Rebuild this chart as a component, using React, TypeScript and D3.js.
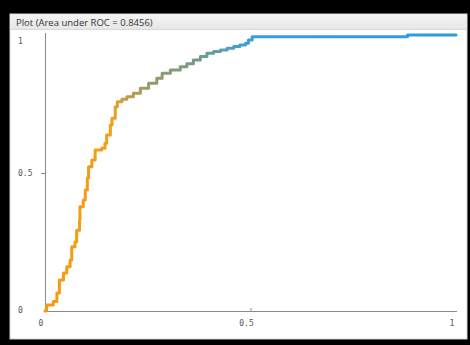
import { useEffect, useRef } from 'react';
import * as d3 from 'd3';

// ROC curve points
const fpr = [0, 0.002, 0.004, 0.02, 0.029, 0.035, 0.045, 0.053, 0.061, 0.065, 0.073, 0.077, 0.084, 0.085, 0.093, 0.098, 0.103, 0.106, 0.114, 0.122, 0.138, 0.146, 0.15, 0.159, 0.163, 0.171, 0.176, 0.187, 0.199, 0.215, 0.232, 0.252, 0.272, 0.285, 0.305, 0.329, 0.345, 0.361, 0.378, 0.394, 0.41, 0.427, 0.443, 0.459, 0.474, 0.488, 0.495, 0.504, 0.882, 1.0];
const tpr = [0, 0.004, 0.022, 0.034, 0.065, 0.112, 0.138, 0.16, 0.185, 0.233, 0.251, 0.293, 0.33, 0.378, 0.402, 0.438, 0.482, 0.523, 0.547, 0.583, 0.59, 0.608, 0.638, 0.674, 0.698, 0.74, 0.758, 0.767, 0.776, 0.789, 0.807, 0.825, 0.843, 0.861, 0.873, 0.885, 0.896, 0.909, 0.922, 0.934, 0.94, 0.946, 0.952, 0.958, 0.964, 0.97, 0.982, 0.994, 1.0, 1.0];

const xTicks = [0, 0.5, 1];
const yTicks = [0, 0.5, 1];
const tickLabels = ['0', '0.5', '1'];
const auc = 0.8456;

// colour along the curve, keyed by false positive rate
const gradStops = [
    [0, '#f39c12'],
    [0.165, '#f29e18'],
    [0.19, '#c2a04a'],
    [0.26, '#939a68'],
    [0.35, '#7a9a80'],
    [0.43, '#5e9db0'],
    [0.5, '#35a0dc'],
    [1, '#2e9be0'],
];

export default function App() {
    const svgRef = useRef(null);

    useEffect(() => {
        const width = 470;
        const height = 345;
        const svg = d3.select(svgRef.current);
        svg.selectAll('*').remove();
        svg.attr('width', width).attr('height', height);

        // frame
        svg.append('rect').attr('width', width).attr('height', height).attr('fill', '#000');
        svg.append('rect')
            .attr('x', 10).attr('y', 14)
            .attr('width', 457).attr('height', 325)
            .attr('fill', '#fff').attr('stroke', '#d4d4d4');

        // title bar
        const defs = svg.append('defs');
        const tg = defs.append('linearGradient').attr('id', 'titlebar')
            .attr('x1', 0).attr('y1', 0).attr('x2', 0).attr('y2', 1);
        tg.append('stop').attr('offset', 0).attr('stop-color', '#f4f4f4');
        tg.append('stop').attr('offset', 1).attr('stop-color', '#e6e6e6');
        svg.append('rect')
            .attr('x', 10.5).attr('y', 14.5)
            .attr('width', 456).attr('height', 15)
            .attr('fill', 'url(#titlebar)');
        svg.append('line')
            .attr('x1', 10).attr('x2', 467).attr('y1', 29.5).attr('y2', 29.5)
            .attr('stroke', '#d8d8d8');
        svg.append('text')
            .attr('x', 16).attr('y', 26)
            .style('font-family', '"Open Sans", sans-serif')
            .style('font-size', '9.5px')
            .style('fill', '#333')
            .text(`Plot (Area under ROC = ${auc})`);

        const x = d3.scaleLinear().domain([0, 1]).range([45, 456]);
        const y = d3.scaleLinear().domain([0, 1]).range([311, 35]);

        // axes
        svg.append('line')
            .attr('x1', x(0) + 0.5).attr('x2', x(0) + 0.5)
            .attr('y1', 33).attr('y2', y(0))
            .attr('stroke', '#8a8a8a');
        svg.append('line')
            .attr('x1', x(0)).attr('x2', x(1) + 1)
            .attr('y1', y(0) + 0.5).attr('y2', y(0) + 0.5)
            .attr('stroke', '#8a8a8a');

        // ticks
        svg.append('line')
            .attr('x1', x(0.5) + 0.5).attr('x2', x(0.5) + 0.5)
            .attr('y1', y(0) - 3).attr('y2', y(0))
            .attr('stroke', '#8a8a8a');
        svg.append('line')
            .attr('x1', x(0) - 4).attr('x2', x(0))
            .attr('y1', y(0.5) + 0.5).attr('y2', y(0.5) + 0.5)
            .attr('stroke', '#8a8a8a');

        const labelStyle = (sel) => sel
            .style('font-family', '"DejaVu Sans Mono", monospace')
            .style('font-size', '8px')
            .style('fill', '#555');

        svg.selectAll('.xlab').data(xTicks).enter().append('text')
            .attr('class', 'xlab')
            .attr('x', (d) => x(d) - 4)
            .attr('y', 326)
            .attr('text-anchor', 'middle')
            .call(labelStyle)
            .text((d, i) => tickLabels[i]);

        svg.selectAll('.ylab').data(yTicks).enter().append('text')
            .attr('class', 'ylab')
            .attr('x', 18)
            .attr('y', (d) => y(d) + 3 + (d === 1 ? 6 : 0) - (d === 0 ? 1 : 0))
            .call(labelStyle)
            .text((d, i) => tickLabels[i]);

        // curve gradient
        const cg = defs.append('linearGradient').attr('id', 'rocgrad')
            .attr('gradientUnits', 'userSpaceOnUse')
            .attr('x1', x(0)).attr('x2', x(1)).attr('y1', 0).attr('y2', 0);
        gradStops.forEach(([o, c]) => {
            cg.append('stop').attr('offset', o).attr('stop-color', c);
        });

        const points = fpr.map((f, i) => [f, tpr[i]]);
        const line = d3.line()
            .x((d) => x(d[0]))
            .y((d) => y(d[1]))
            .curve(d3.curveStepAfter);

        svg.append('path')
            .datum(points)
            .attr('d', line)
            .attr('fill', 'none')
            .attr('stroke', 'url(#rocgrad)')
            .attr('stroke-width', 3)
            .attr('stroke-linejoin', 'round')
            .attr('stroke-linecap', 'round');
    }, []);

    return (
        <svg ref={svgRef} style={{ position: 'absolute', left: 0, top: 0, display: 'block' }}></svg>
    );
}
